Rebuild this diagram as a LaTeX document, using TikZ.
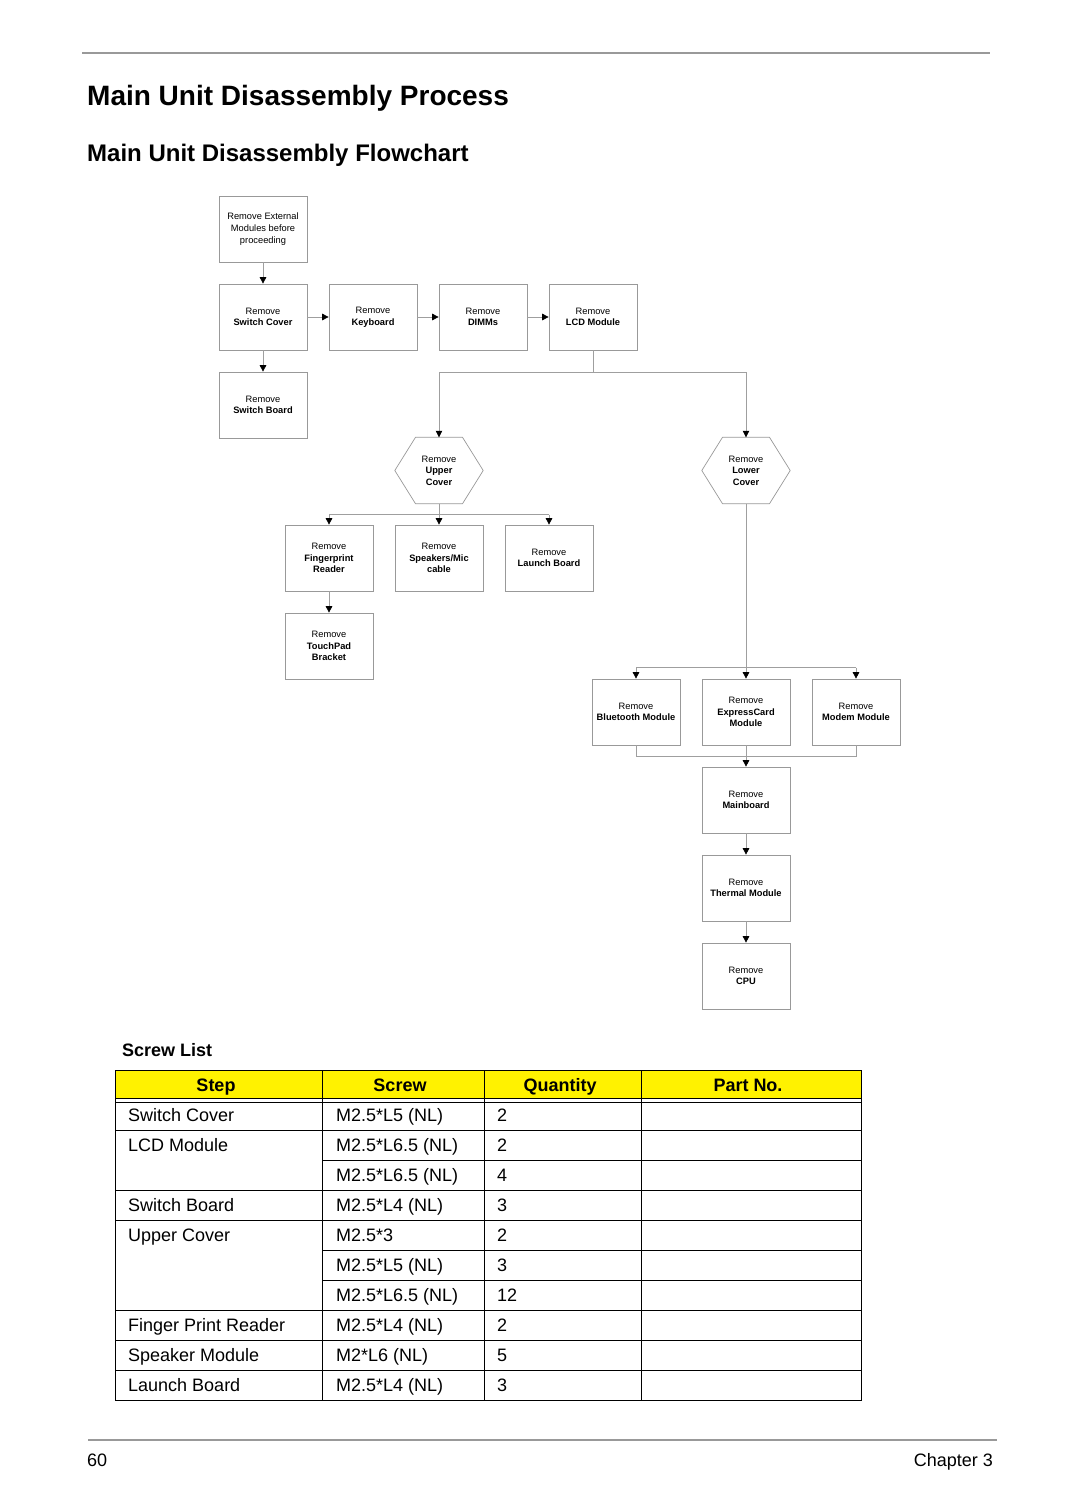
\documentclass[tikz,border=0pt]{standalone}
\usepackage{fontspec}
\setmainfont{Liberation Sans}
\usetikzlibrary{arrows.meta,calc}
\begin{document}
\begin{tikzpicture}[x=1pt,y=-1pt,
  box/.style={draw=gray!80, line width=0.7pt, minimum width=88pt, minimum height=66pt, inner sep=0pt, align=center, font=\fontsize{9.3}{11.6}\selectfont},
  hexa/.style={minimum width=88pt, minimum height=66pt, inner sep=0pt, align=center, font=\fontsize{9.3}{11.6}\selectfont},
  hexline/.style={draw=gray!80, line width=0.7pt},
  conn/.style={draw=gray!75, line width=0.7pt},
  arr/.style={conn, -{Triangle[length=6.5pt,width=6.5pt,color=black]}},
  tline/.style={draw=black, line width=0.8pt},
  txt/.style={inner sep=0pt, anchor=base west, font=\fontsize{18}{20}\selectfont},
  hdr/.style={inner sep=0pt, anchor=base, font=\fontsize{18}{20}\selectfont\bfseries},
]
\useasboundingbox (0,0) rectangle (1080,1512);
\fill[white] (0,0) rectangle (1080,1512);

% header rule and titles
\draw[gray!80, line width=1.6pt] (82,53) -- (990,53);
\node[inner sep=0pt, anchor=base west, font=\fontsize{28}{30}\selectfont\bfseries] (title) at (87,105) {Main Unit Disassembly Process};
\node[inner sep=0pt, anchor=base west, font=\fontsize{24}{26}\selectfont\bfseries] (subtitle) at (87,161) {Main Unit Disassembly Flowchart};

% flowchart nodes
\node[box] (ext) at (263,229) {Remove External\\Modules before\\proceeding};
\node[box] (swc) at (263,317) {Remove\\\textbf{Switch Cover}};
\node[box] (kbd) at (373,317) {Remove\\\textbf{Keyboard}};
\node[box] (dimm) at (483,317) {Remove\\\textbf{DIMMs}};
\node[box] (lcd) at (593,317) {Remove\\\textbf{LCD Module}};
\node[box] (swb) at (263,405) {Remove\\\textbf{Switch Board}};
\node[hexa] (upc) at (439,470.5) {Remove\\\textbf{Upper}\\\textbf{Cover}};
\node[hexa] (loc) at (746,470.5) {Remove\\\textbf{Lower}\\\textbf{Cover}};
\node[box] (fpr) at (329,558) {Remove\\\textbf{Fingerprint}\\\textbf{Reader}};
\node[box] (spk) at (439,558) {Remove\\\textbf{Speakers/Mic}\\\textbf{cable}};
\node[box] (lnb) at (549,558) {Remove\\\textbf{Launch Board}};
\node[box] (tpb) at (329,646) {Remove\\\textbf{TouchPad}\\\textbf{Bracket}};
\node[box] (bt) at (636,712) {Remove\\\textbf{Bluetooth Module}};
\node[box] (exc) at (746,712) {Remove\\\textbf{ExpressCard}\\\textbf{Module}};
\node[box] (mdm) at (856,712) {Remove\\\textbf{Modem Module}};
\node[box] (mb) at (746,800) {Remove\\\textbf{Mainboard}};
\node[box] (thm) at (746,888) {Remove\\\textbf{Thermal Module}};
\node[box] (cpu) at (746,976) {Remove\\\textbf{CPU}};

% hexagons
\foreach \h in {upc,loc}{
  \draw[hexline] ($(\h.north)+(-23.5,0)$) -- ($(\h.north)+(23.5,0)$) -- (\h.east)
    -- ($(\h.south)+(23.5,0)$) -- ($(\h.south)+(-23.5,0)$) -- (\h.west) -- cycle;
}

% connectors
\draw[arr] (ext.south) -- (swc.north);
\draw[arr] (swc.east) -- (kbd.west);
\draw[arr] (kbd.east) -- (dimm.west);
\draw[arr] (dimm.east) -- (lcd.west);
\draw[arr] (swc.south) -- (swb.north);

\coordinate (lcdj) at ($(lcd.south)+(0,22)$);
\draw[conn] (lcd.south) -- (lcdj);
\draw[conn] (upc.north |- lcdj) -- (loc.north |- lcdj);
\draw[arr] (upc.north |- lcdj) -- (upc.north);
\draw[arr] (loc.north |- lcdj) -- (loc.north);

\coordinate (uj) at ($(upc.south)+(0,11)$);
\draw[conn] (upc.south) -- (uj);
\draw[conn] (fpr.north |- uj) -- (lnb.north |- uj);
\draw[arr] (fpr.north |- uj) -- (fpr.north);
\draw[arr] (spk.north |- uj) -- (spk.north);
\draw[arr] (lnb.north |- uj) -- (lnb.north);
\draw[arr] (fpr.south) -- (tpb.north);

\coordinate (lj) at ($(exc.north)+(0,-11)$);
\draw[conn] (loc.south) -- (lj);
\draw[conn] (bt.north |- lj) -- (mdm.north |- lj);
\draw[arr] (bt.north |- lj) -- (bt.north);
\draw[arr] (exc.north |- lj) -- (exc.north);
\draw[arr] (mdm.north |- lj) -- (mdm.north);

\draw[conn] (bt.south) -- ++(0,11) -| (mdm.south);
\draw[arr] (exc.south) -- (mb.north);
\draw[arr] (mb.south) -- (thm.north);
\draw[arr] (thm.south) -- (cpu.north);

% screw list
\node[inner sep=0pt, anchor=base west, font=\fontsize{18}{20}\selectfont\bfseries] (sl) at (122,1056) {Screw List};

\fill[yellow] (115,1070) rectangle (861,1098);
\draw[tline] (115,1070) rectangle (861,1400);
\draw[tline] (115,1098) -- (861,1098);
\draw[tline] (115,1102) -- (861,1102);
\foreach \x in {322,484,641} \draw[tline] (\x,1070) -- (\x,1400);
\foreach \y in {1130,1190,1220,1310,1340,1370} \draw[tline] (115,\y) -- (861,\y);
\foreach \y in {1160,1250,1280} \draw[tline] (322,\y) -- (861,\y);

\node[hdr] (h1) at (216,1091) {Step};
\node[hdr] (h2) at (400,1091) {Screw};
\node[hdr] (h3) at (560,1091) {Quantity};
\node[hdr] (h4) at (748,1091) {Part No.};

\node[txt] (s1) at (128,1121) {Switch Cover};
\node[txt] (s2) at (128,1151) {LCD Module};
\node[txt] (s4) at (128,1211) {Switch Board};
\node[txt] (s5) at (128,1241) {Upper Cover};
\node[txt] (s8) at (128,1331) {Finger Print Reader};
\node[txt] (s9) at (128,1361) {Speaker Module};
\node[txt] (s10) at (128,1391) {Launch Board};

\node[txt] (c1) at (336,1121) {M2.5*L5 (NL)};
\node[txt] (c2) at (336,1151) {M2.5*L6.5 (NL)};
\node[txt] (c3) at (336,1181) {M2.5*L6.5 (NL)};
\node[txt] (c4) at (336,1211) {M2.5*L4 (NL)};
\node[txt] (c5) at (336,1241) {M2.5*3};
\node[txt] (c6) at (336,1271) {M2.5*L5 (NL)};
\node[txt] (c7) at (336,1301) {M2.5*L6.5 (NL)};
\node[txt] (c8) at (336,1331) {M2.5*L4 (NL)};
\node[txt] (c9) at (336,1361) {M2*L6 (NL)};
\node[txt] (c10) at (336,1391) {M2.5*L4 (NL)};

\node[txt] (q1) at (497,1121) {2};
\node[txt] (q2) at (497,1151) {2};
\node[txt] (q3) at (497,1181) {4};
\node[txt] (q4) at (497,1211) {3};
\node[txt] (q5) at (497,1241) {2};
\node[txt] (q6) at (497,1271) {3};
\node[txt] (q7) at (497,1301) {12};
\node[txt] (q8) at (497,1331) {2};
\node[txt] (q9) at (497,1361) {5};
\node[txt] (q10) at (497,1391) {3};

% footer
\draw[gray!80, line width=1.2pt] (88,1440) -- (997,1440);
\node[txt] (pg) at (87,1466) {60};
\node[txt, anchor=base east] (ch) at (993,1466) {Chapter 3};
\end{tikzpicture}
\end{document}
